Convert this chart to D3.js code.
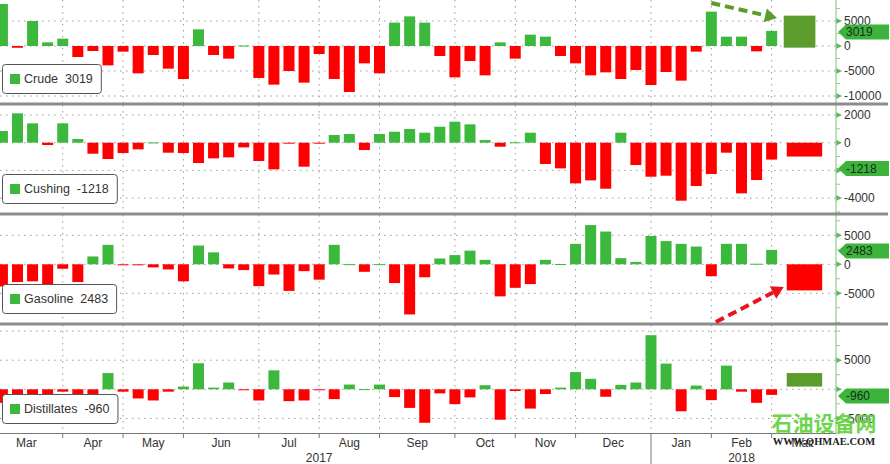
<!DOCTYPE html>
<html><head><meta charset="utf-8">
<script src="https://cdn.jsdelivr.net/npm/d3@7"></script>
<style>
body{margin:0;background:#fff}
svg{display:block;font-family:"Liberation Sans",Arial,sans-serif}
</style>
</head><body>
<svg id="c" width="890" height="464"></svg>
<script>
// ---------- DATA ----------
const weeks = d3.range(52); // weekly observations, Mar 2017 .. Feb 2018
const crude = [8400,-350,5000,730,1470,-2200,-1000,-3870,-1130,-5470,-1800,-4530,-6600,3330,-1800,-2530,100,-6400,-7730,-5000,-7330,-1600,-6600,-9200,-3470,-5470,4670,5930,4670,-2000,-6270,-3000,-5870,730,-2530,2270,1870,-2000,-3470,-5870,-5270,-6600,-4800,-7800,-5200,-6930,-1130,6870,1870,1870,-1070,3019];
const cushing = [842,2118,1396,-168,1396,265,-794,-1179,-746,-481,20,-722,-746,-1468,-1131,-1059,-337,-1324,-1925,-30,-1733,-30,554,626,-530,626,794,987,722,1155,1516,1324,190,-289,30,722,-1540,-1853,-2936,-2720,-3321,722,-1612,-2455,-2383,-4188,-3129,-2263,-722,-3658,-2696,-1218];
const gasoline = [-3822,-3058,-2940,-3646,-764,-3058,1352,3352,-50,-50,-529,-882,-2940,3234,2058,-706,-1000,-3763,-1764,-4586,-1176,-2646,3352,30,-1294,30,-3234,-8644,-2234,1000,1588,2352,764,-5527,-4057,-3410,764,50,3528,6762,5645,1058,412,4880,4000,3528,3058,-2058,3528,3528,100,2483];
const distillates = [-2326,-2442,-1860,-2442,-407,-2035,-1860,2790,-407,-1570,-1918,-407,465,4475,290,1162,-50,-1918,3254,-2035,-1918,-30,-1685,813,30,813,-1336,-3196,-5752,-697,-2556,-1394,697,-5229,-290,-3312,-813,290,2963,1801,-1278,755,1162,9296,4416,-3777,639,-1860,4067,-407,-2326,-960];
const seriesNames = ["Crude","Cushing","Gasoline","Distillates"];
const latest = [3019,-1218,2483,-960];
// highlighted summary boxes [low, high]
const boxes = [[-330,6070],[-1000,0],[-4500,0],[465,2790]];
// right-axis tick labels per panel
const tickLabels = [[5000,0,-5000,-10000],[2000,0,-2000,-4000],[5000,0,-5000],[5000,0,-5000]];
const gridValues = [[5000,0,-5000,-10000],[2000,0,-2000,-4000],[5000,0,-5000],[10000,5000,0,-5000]];
const monthBounds = [-1,4,8,12,17,21,25,30,34,38,43,47,51,55];
const monthLabels = ["Mar","Apr","May","Jun","Jul","Aug","Sep","Oct","Nov","Dec","Jan","Feb","Mar"];
const yearLabels = [["2017",-1,43],["2018",43,55]];

// ---------- LAYOUT ----------
const W = 890, plotR = 836;
const panels = [
  {values: crude,       top: 0,   bottom: 103, domain: [-11400, 9200], boxColor: "#5b9c2c", tagDy: 1},
  {values: cushing,     top: 105, bottom: 213, domain: [-5076, 2722],  boxColor: "#ff0000", tagDy: 9},
  {values: gasoline,    top: 215, bottom: 323, domain: [-10120, 8500], boxColor: "#ff0000", tagDy: 1},
  {values: distillates, top: 325, bottom: 433, domain: [-7509, 11048], boxColor: "#5b9c2c", tagDy: 1}
];
const GREEN = "#3cb83c", RED = "#ff0000", AXISG = "#8fcf8f";

const svg = d3.select("#c");
const x = d3.scaleLinear().domain([-0.16, 55.2]).range([0, 835]);
const barW = 11;

panels.forEach((p, pi) => {
  const y = d3.scaleLinear().domain(p.domain).range([p.bottom, p.top]);
  p.y = y;
  const g = svg.append("g");
  const ty = y(latest[pi]) + p.tagDy;
  // horizontal grid
  g.selectAll("line.hg").data(gridValues[pi]).join("line")
    .attr("x1", 0).attr("x2", plotR).attr("y1", d => y(d)).attr("y2", d => y(d))
    .attr("stroke", "#9a9a9a").attr("stroke-width", 1).attr("stroke-dasharray", "1.5,4.5");
  // vertical month grid
  g.selectAll("line.vg").data(monthBounds.slice(1, -1)).join("line")
    .attr("x1", d => x(d)).attr("x2", d => x(d)).attr("y1", p.top).attr("y2", p.bottom)
    .attr("stroke", "#9a9a9a").attr("stroke-width", 1).attr("stroke-dasharray", "1.5,4.5");
  // bars
  const clipId = "clip" + pi;
  svg.append("clipPath").attr("id", clipId).append("rect")
    .attr("x", 0).attr("y", p.top).attr("width", plotR).attr("height", p.bottom - p.top);
  g.append("g").attr("clip-path", `url(#${clipId})`)
    .selectAll("rect").data(weeks).join("rect")
    .attr("x", i => x(i) - barW / 2).attr("width", barW)
    .attr("y", i => Math.min(y(p.values[i]), y(0)))
    .attr("height", i => Math.max(1, Math.abs(y(p.values[i]) - y(0))))
    .attr("fill", i => p.values[i] >= 0 ? GREEN : RED);
  // summary box
  const b = boxes[pi];
  g.append("rect")
    .attr("x", x(pi === 0 ? 51.8 : 52)).attr("width", x(pi === 0 ? 53.9 : 54.35) - x(pi === 0 ? 51.8 : 52))
    .attr("y", y(b[1])).attr("height", y(b[0]) - y(b[1])).attr("fill", p.boxColor);
  // right axis ticks
  const t = g.selectAll("g.tk").data(tickLabels[pi]).join("g")
    .attr("transform", d => `translate(${plotR},${y(d)})`);
  t.append("path").attr("d", "M0,-3L6,0L0,3Z").attr("fill", "#5fb85f");
  t.filter(d => Math.abs(y(d) - ty) >= 8)
    .append("text").attr("x", 8).attr("dy", "0.35em").attr("font-size", 12).attr("fill", "#333")
    .text(d => d);
  // minor ticks
  const step = tickLabels[pi][0] - tickLabels[pi][1];
  const minors = d3.range(p.domain[0], p.domain[1], step / 2)
    .map(v => Math.ceil(p.domain[0] / (step / 2)) * (step / 2) + (v - p.domain[0]))
    .filter(v => v <= p.domain[1] && !tickLabels[pi].includes(v));
  g.selectAll("line.mn").data(minors).join("line")
    .attr("x1", plotR).attr("x2", plotR + 4).attr("y1", d => y(d)).attr("y2", d => y(d))
    .attr("stroke", AXISG).attr("stroke-width", 1);
  // value tag
  g.append("path")
    .attr("d", `M${plotR + 2},${ty}L${plotR + 10},${ty - 7.5}L889,${ty - 7.5}L889,${ty + 7.5}L${plotR + 10},${ty + 7.5}Z`)
    .attr("fill", "#3cb43c");
  g.append("text").attr("x", plotR + 10).attr("y", ty).attr("dy", "0.36em")
    .attr("font-size", 12).attr("fill", "#1a2a1a").text(latest[pi]);
  // legend
  const label = seriesNames[pi] + "  " + latest[pi];
  const lg = g.append("g").attr("transform", `translate(2,${p.bottom - 39})`);
  const lt = lg.append("text").attr("x", 22).attr("y", 15).attr("dy", "0.35em")
    .attr("font-size", 12.5).attr("fill", "#333").attr("xml:space", "preserve").text(label);
  const tw = lt.node().getComputedTextLength();
  lg.insert("rect", "text").attr("x", 0.5).attr("y", 0.5).attr("width", tw + 30).attr("height", 29)
    .attr("rx", 3).attr("fill", "#fff").attr("stroke", "#555").attr("stroke-width", 1);
  lg.append("rect").attr("x", 8).attr("y", 10).attr("width", 10).attr("height", 10).attr("fill", GREEN);
});

// right axis line
svg.append("line").attr("x1", plotR).attr("x2", plotR).attr("y1", 0).attr("y2", 433)
  .attr("stroke", AXISG).attr("stroke-width", 1.2);
// panel separators
svg.selectAll("line.sep").data(panels.slice(0, 3)).join("line")
  .attr("x1", 0).attr("x2", 888).attr("y1", p => p.bottom + 1).attr("y2", p => p.bottom + 1)
  .attr("stroke", "#8c8c8c").attr("stroke-width", 3);

// bottom axis
svg.append("line").attr("x1", 0).attr("x2", plotR).attr("y1", 433.5).attr("y2", 433.5)
  .attr("stroke", "#777").attr("stroke-width", 1);
svg.selectAll("line.mt").data(monthBounds.slice(1, -1)).join("line")
  .attr("x1", d => x(d)).attr("x2", d => x(d)).attr("y1", 433).attr("y2", d => d === 43 ? 464 : 438)
  .attr("stroke", "#777").attr("stroke-width", 1);
svg.selectAll("text.ml").data(monthLabels).join("text")
  .attr("x", (d, i) => (Math.max(0, x(monthBounds[i])) + x(monthBounds[i + 1])) / 2 + (i === 0 ? -5 : 0))
  .attr("y", 447).attr("text-anchor", "middle").attr("font-size", 12).attr("fill", "#333").text(d => d);
svg.selectAll("text.yl").data(yearLabels).join("text")
  .attr("x", d => (x(d[1]) + x(d[2])) / 2).attr("y", 462).attr("text-anchor", "middle")
  .attr("font-size", 12).attr("fill", "#333").text(d => d[0]);

// arrows
function arrow(p, from, to, color) {
  const x1 = x(from[0]), y1 = p.y(from[1]), x2 = x(to[0]), y2 = p.y(to[1]);
  const a = Math.atan2(y2 - y1, x2 - x1), L = 12, Wd = 7;
  const bx = x2 - L * Math.cos(a), by = y2 - L * Math.sin(a);
  svg.append("line").attr("x1", x1).attr("y1", y1).attr("x2", bx).attr("y2", by)
    .attr("stroke", color).attr("stroke-width", 4).attr("stroke-dasharray", "9,5");
  svg.append("path").attr("fill", color)
    .attr("d", `M${x2},${y2}L${bx + Wd * Math.sin(a)},${by - Wd * Math.cos(a)}L${bx - Wd * Math.sin(a)},${by + Wd * Math.cos(a)}Z`);
}
arrow(panels[0], [47.0, 8600], [51.35, 5600], "#5b9c2c");
arrow(panels[2], [47.3, -9950], [51.8, -3900], "#e8141a");

// watermark
svg.append("text").attr("x", 824).attr("y", 431).attr("text-anchor", "middle")
  .attr("font-family", "Noto Sans CJK SC").attr("font-weight", "bold").attr("font-size", 21)
  .attr("fill", "#5fd23a").attr("opacity", 0.9).text("石油设备网");
svg.append("text").attr("x", 824).attr("y", 445).attr("text-anchor", "middle")
  .attr("font-family", "Liberation Serif").attr("font-weight", "bold").attr("font-size", 10.5)
  .attr("fill", "#222").text("WWW.QHMAE.COM");
</script>
</body></html>
